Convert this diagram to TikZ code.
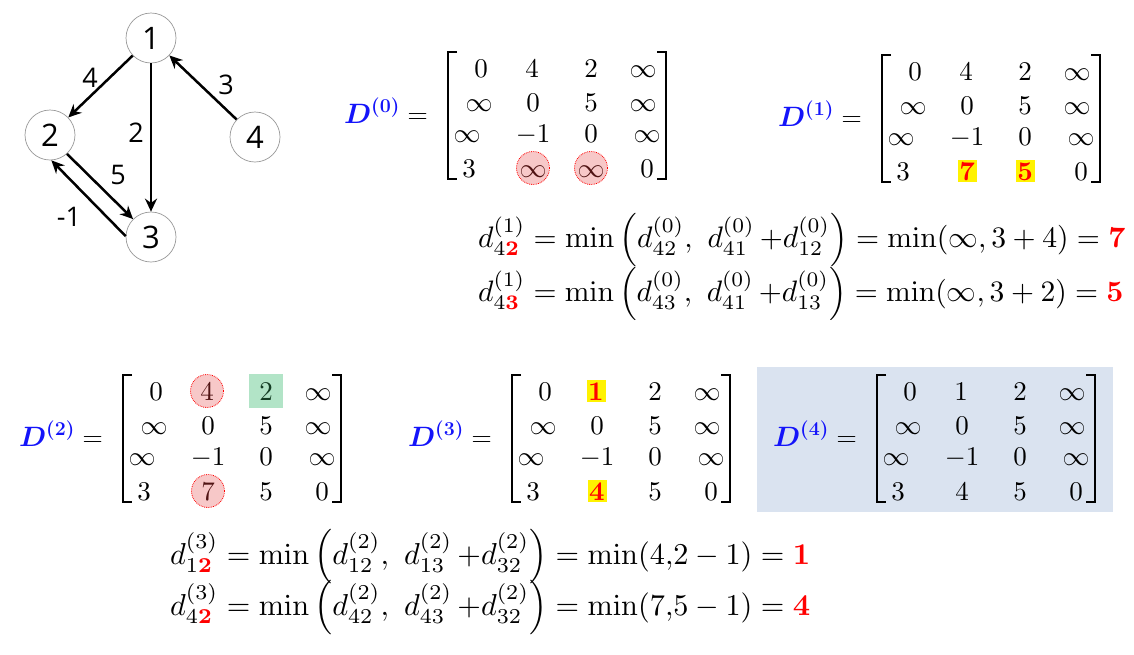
\RequirePackage{fix-cm}
\documentclass[tikz,border=0pt]{standalone}
\usepackage{amsmath,amssymb}
\usepackage[no-math]{fontspec}
\newfontfamily\gfont{Open Sans}
\usetikzlibrary{arrows.meta}
\definecolor{dblue}{RGB}{20,20,250}
\definecolor{pinkf}{RGB}{247,200,200}
\definecolor{darkred}{RGB}{80,20,20}
\definecolor{greenf}{RGB}{178,228,199}
\definecolor{darkgreen}{RGB}{20,60,35}
\definecolor{boxbg}{RGB}{218,227,240}
\pgfdeclareradialshading{nodeball}{\pgfpoint{0bp}{0bp}}{color(0bp)=(white); color(28bp)=(white); color(44bp)=(black!22); color(50bp)=(black!45)}
\tikzset{
  vtx/.style={circle, minimum size=50pt, inner sep=0pt, draw=black!40, line width=0.7pt, shade, shading=nodeball, font=\gfont\fontsize{31}{31}\selectfont},
  edge/.style={line width=2.5pt, -{Stealth[length=13pt,width=12pt]}},
  elab/.style={font=\gfont\fontsize{27}{27}\selectfont, inner sep=0pt},
  cell/.style={inner sep=0pt, text height=18pt, text depth=0pt, font=\fontsize{10}{12}\selectfont},
  n/.style={},
  pk/.style={circle, minimum size=33pt, fill=pinkf, draw=red, densely dotted, line width=0.8pt, text=darkred},
  yl/.style={fill=yellow, minimum width=19pt, minimum height=22pt, text=red},
  gr/.style={fill=greenf, minimum width=34pt, minimum height=34pt, text=darkgreen},
  brk/.style={line width=2.4pt},
  dlab/.style={anchor=base east, inner sep=0pt, font=\fontsize{28}{30}\selectfont},
  formula/.style={anchor=west, inner sep=0pt},
}
% #1 name, #2 L, #3 T, #4 superscript, #5 entries
\newcommand\mymat[5]{%
  \node[dlab] (#1-lab) at ({#2-20},{#3+71}) {$\textcolor{dblue}{\boldsymbol{D^{(#4)}}} =$};
  \draw[brk] ({#2+9},#3) -- (#2,#3) -- (#2,{#3+127}) -- ({#2+9},{#3+127});
  \draw[brk] ({#2+209},#3) -- ({#2+218},#3) -- ({#2+218},{#3+127}) -- ({#2+209},{#3+127});
  \foreach \e/\s [count=\k from 0] in {#5} {
    \pgfmathtruncatemacro\r{floor(\k/4)}
    \pgfmathtruncatemacro\c{mod(\k,4)}
    \pgfmathsetmacro\dx{{33,84,143,195,31,85,143,195,19,85,143,199,21,85,143,199}[\k]}
    \pgfmathsetmacro\dy{{16,50,81,116}[\r]}
    \node[cell,\s] (#1-\r-\c) at ({#2+\dx},{#3+\dy}) {\scalebox{2.7}{$\e$}};
  }
}
\begin{document}
\begin{tikzpicture}[x=1pt,y=-1pt]
\useasboundingbox (0,0) rectangle (1134,654);
% background box for D4
\fill[boxbg] (757,367) rectangle (1113,512);
% graph
\node[vtx] (n1) at (151,38) {1};
\node[vtx] (n2) at (50,135) {2};
\node[vtx] (n4) at (255,137) {4};
\node[vtx] (n3) at (151,237) {3};
\draw[edge] (n1) -- (n2);
\draw[edge] (n1) -- (n3);
\draw[edge] (n4) -- (n1);
\draw[edge] (n2.-48) -- (n3.135);
\draw[edge] (n3.178) -- (n2.-87);
\node[elab] (w12) at (90,78) {4};
\node[elab] (w13) at (136,133) {2};
\node[elab] (w41) at (226,85) {3};
\node[elab] (w23) at (118,175) {5};
\node[elab] (w32) at (69,217) {-1};
% matrices
\mymat{Dz}{448}{52}{0}{0/n,4/n,2/n,\infty/n,\infty/n,0/n,5/n,\infty/n,\infty/n,-1/n,0/n,\infty/n,3/n,\infty/pk,\infty/pk,0/n}
\mymat{Da}{882}{55}{1}{0/n,4/n,2/n,\infty/n,\infty/n,0/n,5/n,\infty/n,\infty/n,-1/n,0/n,\infty/n,3/n,\mathbf{7}/yl,\mathbf{5}/yl,0/n}
\mymat{Db}{123}{375}{2}{0/n,4/pk,2/gr,\infty/n,\infty/n,0/n,5/n,\infty/n,\infty/n,-1/n,0/n,\infty/n,3/n,7/pk,5/n,0/n}
\mymat{Dc}{512}{375}{3}{0/n,\mathbf{1}/yl,2/n,\infty/n,\infty/n,0/n,5/n,\infty/n,\infty/n,-1/n,0/n,\infty/n,3/n,\mathbf{4}/yl,5/n,0/n}
\mymat{Dd}{877}{375}{4}{0/n,1/n,2/n,\infty/n,\infty/n,0/n,5/n,\infty/n,\infty/n,-1/n,0/n,\infty/n,3/n,4/n,5/n,0/n}
% formulas
\node[formula] (f1) at (478,240) {\resizebox{647pt}{!}{$d^{(1)}_{4\textcolor{red}{\mathbf{2}}} = \min\left(d^{(0)}_{42},\ d^{(0)}_{41}\,{+}d^{(0)}_{12}\right) = \min(\infty,3+4) = \textcolor{red}{\mathbf{7}}$}};
\node[formula] (f2) at (478,294) {\resizebox{645pt}{!}{$d^{(1)}_{4\textcolor{red}{\mathbf{3}}} = \min\left(d^{(0)}_{43},\ d^{(0)}_{41}\,{+}d^{(0)}_{13}\right) = \min(\infty,3+2) = \textcolor{red}{\mathbf{5}}$}};
\node[formula] (f3) at (170,557) {\resizebox{640pt}{!}{$d^{(3)}_{1\textcolor{red}{\mathbf{2}}} = \min\left(d^{(2)}_{12},\ d^{(2)}_{13}\,{+}d^{(2)}_{32}\right) = \min(4{,}2-1) = \textcolor{red}{\mathbf{1}}$}};
\node[formula] (f4) at (170,608) {\resizebox{640pt}{!}{$d^{(3)}_{4\textcolor{red}{\mathbf{2}}} = \min\left(d^{(2)}_{42},\ d^{(2)}_{43}\,{+}d^{(2)}_{32}\right) = \min(7{,}5-1) = \textcolor{red}{\mathbf{4}}$}};
\end{tikzpicture}
\end{document}
